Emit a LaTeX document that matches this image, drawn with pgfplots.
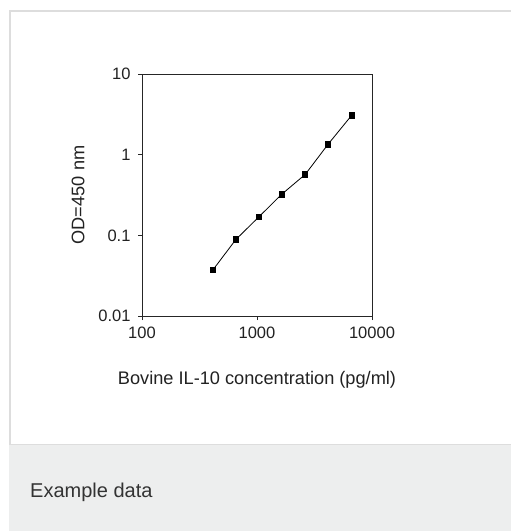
\documentclass[border=0pt]{standalone}
\usepackage{fontspec}
\setmainfont{Liberation Sans}
\usepackage{pgfplots}
\pgfplotsset{compat=1.18}
\definecolor{footgray}{HTML}{EDEEEE}
\definecolor{bordergray}{HTML}{DDDDDD}
\definecolor{txt}{HTML}{222222}
\begin{document}
\begin{tikzpicture}[x=1pt,y=1pt]
\useasboundingbox (0,0) rectangle (511,-531);
\fill[white] (0,0) rectangle (511,-531);
\draw[bordergray, line width=1.5pt] (10,-11) rectangle (530,-445);
\fill[footgray] (9,-445) rectangle (520,-531);
\node[anchor=base west, text=black!80, font=\fontsize{20}{24}\selectfont, inner sep=0pt] at (30,-497) {Example data};
\begin{axis}[
  scale only axis,
  width=230pt, height=242pt,
  at={(142pt,-316pt)}, anchor=south west,
  xmode=log, ymode=log,
  xmin=100, xmax=10000, ymin=0.01, ymax=10,
  xtick={100,1000,10000}, xticklabels={100,1000,10000},
  ytick={0.01,0.1,1,10}, yticklabels={0.01,0.1,1,10},
  minor tick style={draw=none},
  minor tick length=0pt,
  tick align=outside,
  major tick length=4pt,
  xtick pos=bottom, ytick pos=left,
  axis line style={line width=0.9pt, black!85},
  tick style={line width=0.9pt, black!85},
  /pgf/number format/assume math mode=true,
  tick label style={font=\fontsize{16.5}{19}\selectfont, text=txt},
  xticklabel style={yshift=-3pt},
  yticklabel style={xshift=-4pt},
  xlabel={Bovine IL-10 concentration (pg/ml)},
  ylabel={OD=450 nm},
  label style={font=\fontsize{18.2}{21}\selectfont, text=txt},
  xlabel style={at={(axis description cs:0.5,-0.264)}, anchor=center},
  ylabel style={at={(axis description cs:-0.278,0.5)}, anchor=center, rotate=0},
  clip=false,
]
\addplot[black, line width=0.8pt, mark=square*, mark size=2.6pt, mark options={solid, fill=black}]
  coordinates {
  (412,0.037) (656,0.089) (1041,0.170) (1636,0.322) (2630,0.57) (4140,1.34) (6650,3.07)
  };
\end{axis}
\end{tikzpicture}
\end{document}
